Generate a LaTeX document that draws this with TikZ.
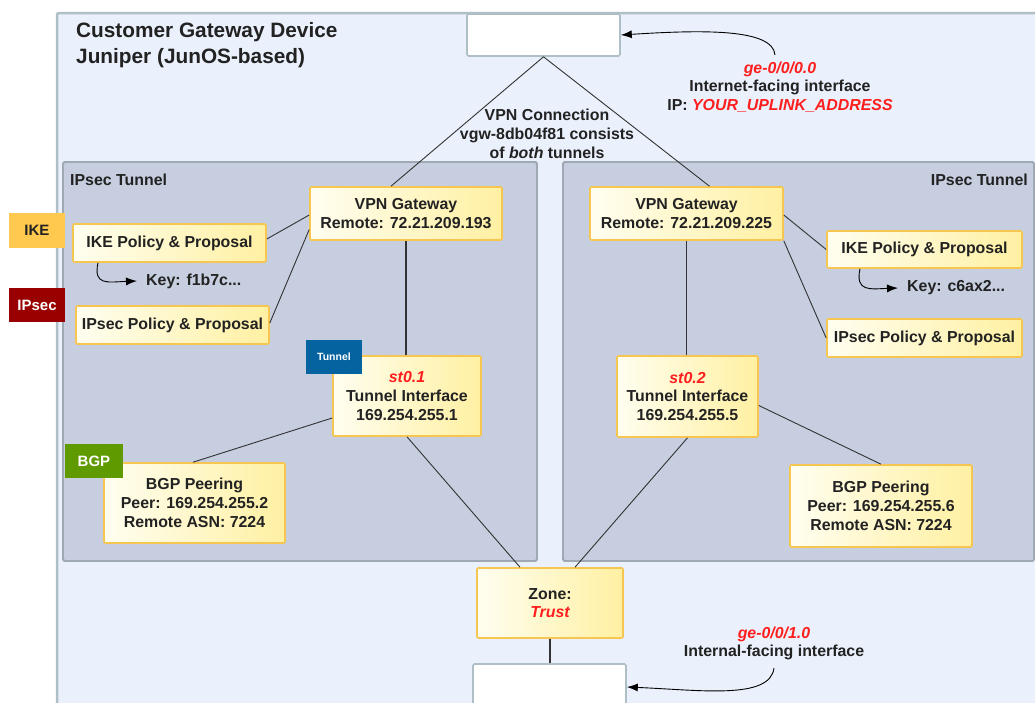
\documentclass[tikz,border=0pt]{standalone}
\usepackage{fontspec}
\setmainfont{Liberation Sans}
\usetikzlibrary{arrows.meta,calc}
\definecolor{outerfill}{HTML}{EAF1FC}
\definecolor{outerline}{HTML}{AEBFC6}
\definecolor{panelfill}{HTML}{C6CEE0}
\definecolor{panelline}{HTML}{9EA9B4}
\definecolor{ylwline}{HTML}{F7C650}
\definecolor{ylwlight}{HTML}{FFFEF0}
\definecolor{ylwdark}{HTML}{FFF0A2}
\definecolor{txt}{HTML}{222222}
\definecolor{redtxt}{HTML}{FF1E1E}
\definecolor{ikecol}{HTML}{FFC84E}
\definecolor{ipseccol}{HTML}{990000}
\definecolor{tunnelcol}{HTML}{0563A0}
\definecolor{bgpcol}{HTML}{5E9A00}
\definecolor{linecol}{HTML}{333333}
\tikzset{
  lbl/.style={font=\bfseries\fontsize{15.9}{18.7}\selectfont, text=txt, align=center, inner sep=0pt},
  ybox/.style={lbl, draw=ylwline, line width=1.6pt, left color=ylwlight, right color=ylwdark, rounded corners=1.2pt},
  wbox/.style={draw=outerline, line width=1.6pt, fill=white, rounded corners=1.5pt},
  badge/.style={font=\bfseries\fontsize{15}{17}\selectfont, text=white, inner sep=0pt},
  conn/.style={draw=linecol, line width=0.9pt},
  arr/.style={draw=black, line width=0.9pt, -{Latex[length=11pt,width=8pt]}},
}
\begin{document}
\begin{tikzpicture}[x=1pt,y=-1pt]
\useasboundingbox (0,0) rectangle (1035,702);
\clip (0,0) rectangle (1035,702);
\fill[white] (0,0) rectangle (1035,702);
% outer device box
\draw[fill=outerfill, draw=outerline, line width=2.5pt, rounded corners=2pt] (57,13) rectangle (1060,730);
% IPsec panels
\draw[fill=panelfill, draw=panelline, line width=1.8pt, rounded corners=1.5pt] (63,162) rectangle (537,561);
\draw[fill=panelfill, draw=panelline, line width=1.8pt, rounded corners=1.5pt] (563,162) rectangle (1034,561);

\node[lbl, anchor=west, font=\bfseries\fontsize{20.8}{26}\selectfont, align=left] (title) at (76,45.5) {Customer Gateway Device\\Juniper (JunOS-based)};
\node[lbl, anchor=west] (tunL) at (70,180) {IPsec Tunnel};
\node[lbl, anchor=east] (tunR) at (1028,180) {IPsec Tunnel};

% white boxes
\node[wbox, minimum width=153pt, minimum height=42pt] (topbox) at (543.5,35) {};
\node[wbox, minimum width=153pt, minimum height=46pt] (botbox) at (549.5,687) {};

% yellow boxes
\node[ybox, minimum width=192pt, minimum height=53pt] (vpnL) at (406,213.5) {VPN Gateway\\Remote: 72.21.209.193};
\node[ybox, minimum width=193pt, minimum height=53pt] (vpnR) at (686.5,213.5) {VPN Gateway\\Remote: 72.21.209.225};
\node[ybox, minimum width=193pt, minimum height=38pt] (ikeL) at (169.5,243) {IKE Policy \& Proposal};
\node[ybox, minimum width=193pt, minimum height=38pt] (ipsecL) at (172.5,325) {IPsec Policy \& Proposal};
\node[ybox, minimum width=195pt, minimum height=37pt] (ikeR) at (924.5,249.5) {IKE Policy \& Proposal};
\node[ybox, minimum width=195pt, minimum height=38pt] (ipsecR) at (924.5,338) {IPsec Policy \& Proposal};
\node[ybox, minimum width=148pt, minimum height=80pt] (st01) at (407,396) {{\color{redtxt}\itshape st0.1}\\Tunnel Interface\\169.254.255.1};
\node[ybox, minimum width=141pt, minimum height=81pt] (st02) at (687.5,396.5) {{\color{redtxt}\itshape st0.2}\\Tunnel Interface\\169.254.255.5};
\node[ybox, minimum width=181pt, minimum height=80pt] (bgpL) at (194.5,503) {BGP Peering\\Peer: 169.254.255.2\\Remote ASN: 7224};
\node[ybox, minimum width=182pt, minimum height=82pt] (bgpR) at (881,506) {BGP Peering\\Peer: 169.254.255.6\\Remote ASN: 7224};
\node[ybox, minimum width=146pt, minimum height=70pt] (zone) at (550,603) {Zone:\\{\color{redtxt}\itshape Trust}};

% badges
\node[badge, fill=ikecol, text=txt, minimum width=56pt, minimum height=35pt] (ikeB) at (37,230.5) {IKE};
\node[badge, fill=ipseccol, minimum width=56pt, minimum height=34pt] (ipsecB) at (37,305) {IPsec};
\node[badge, fill=tunnelcol, font=\bfseries\fontsize{10.5}{12}\selectfont, minimum width=56pt, minimum height=34pt] (tunB) at (334,357) {Tunnel};
\node[badge, fill=bgpcol, minimum width=58pt, minimum height=34pt] (bgpB) at (94,461) {BGP};

% key labels
\node[lbl, anchor=west] (keyL) at (146,281) {Key: f1b7c...};
\node[lbl, anchor=west] (keyR) at (907,288) {Key: c6ax2...};

% annotations
\node[lbl] (vpnconn) at (547,134) {VPN Connection\\vgw-8db04f81 consists\\of {\itshape both} tunnels};
\node[lbl] (upl) at (780,87) {{\color{redtxt}\itshape ge-0/0/0.0}\\Internet-facing interface\\IP: {\color{redtxt}\itshape YOUR\_UPLINK\_ADDRESS}};
\node[lbl] (intl) at (774,643.5) {{\color{redtxt}\itshape ge-0/0/1.0}\\Internal-facing interface};

% connectors
\draw[conn] (topbox.south) -- ([xshift=-15pt]vpnL.north);
\draw[conn] (topbox.south) -- ([xshift=23pt]vpnR.north);
\draw[conn, line width=1.2pt] (vpnL.south) -- (vpnL.south |- st01.north);
\draw[conn, line width=1.2pt] (vpnR.south) -- (vpnR.south |- st02.north);
\draw[conn] ([yshift=-1.5pt]vpnL.west) -- ([yshift=4pt]ikeL.east);
\draw[conn] ([yshift=-16pt]vpnL.west) -- ([yshift=2pt]ipsecL.east);
\draw[conn] ([yshift=-1.5pt]vpnR.east) -- (ikeR.west);
\draw[conn] (vpnR.south east) -- (ipsecR.west);
\draw[conn] ([yshift=-22pt]st01.west) -- ([xshift=-1.5pt]bgpL.north);
\draw[conn] ([yshift=-9pt]st02.east) -- (bgpR.north);
\draw[conn] (st01.south) -- ([xshift=-30pt]zone.north);
\draw[conn] (st02.south) -- ([xshift=25pt]zone.north);
\draw[conn, line width=1.2pt] (zone.south) -- (zone.south |- botbox.north);

% curved arrows
\coordinate (ikeLk) at ([xshift=-71.5pt]ikeL.south);
\draw[arr] (ikeLk) .. controls (93,286) and (108,282) .. ([xshift=-9pt]keyL.west);
\coordinate (ikeRk) at ([xshift=-64.5pt]ikeR.south);
\draw[arr] (ikeRk) .. controls (855,292) and (870,289) .. ([xshift=-9pt]keyR.west);
\coordinate (uplk) at (775,55);
\draw[arr] (uplk) .. controls (773,28) and (700,30) .. (topbox.east);
\coordinate (intk) at (774,668);
\draw[arr] (intk) .. controls (770,700) and (700,690) .. (botbox.east);
\end{tikzpicture}
\end{document}
